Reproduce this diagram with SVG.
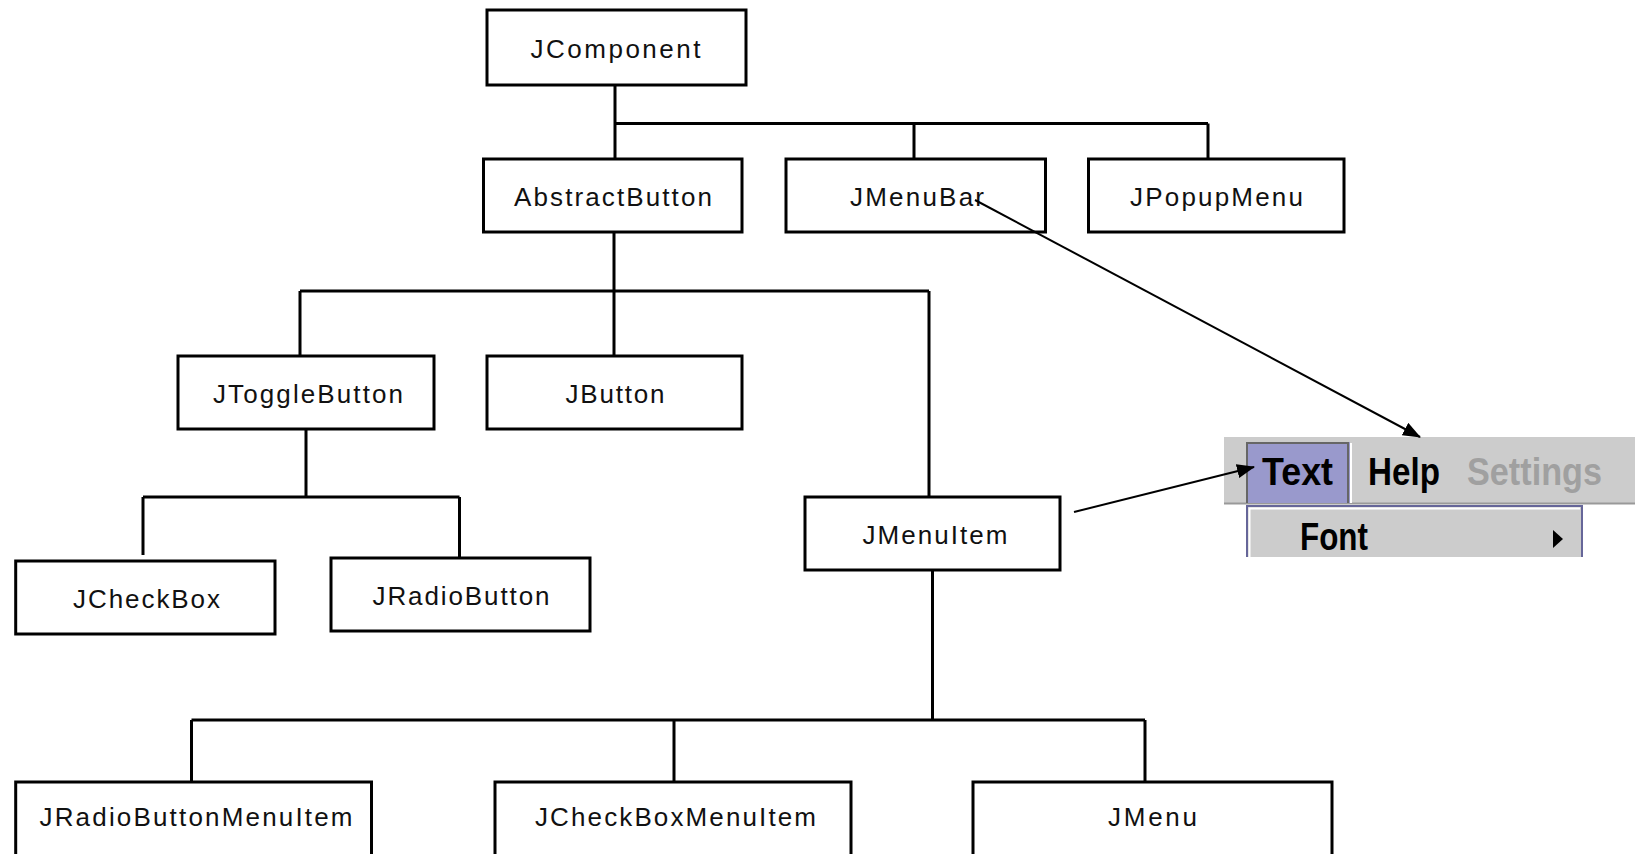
<svg xmlns="http://www.w3.org/2000/svg" width="1641" height="854" viewBox="0 0 1641 854">
<style>
.box{fill:#fff;stroke:#000;stroke-width:3}
.lbl{font-family:"Liberation Sans",Arial,sans-serif;font-size:26px;fill:#111;text-anchor:middle}
.con{fill:none;stroke:#000;stroke-width:3}
.arr{fill:none;stroke:#000;stroke-width:2}
.menu{font-family:"Liberation Sans",Arial,sans-serif;font-weight:bold;font-size:39px}
</style>
<defs>
<marker id="ah" markerUnits="userSpaceOnUse" markerWidth="18" markerHeight="14" refX="17" refY="7" orient="auto">
<path d="M0,0 L18,7 L0,14 Z" fill="#000"/>
</marker>
</defs>
<rect width="1641" height="854" fill="#fff"/>
<g id="JComponent"><rect class="box" x="487" y="10" width="259" height="75"/><text class="lbl" x="615.5" y="58" textLength="170">JComponent</text></g>
<g id="AbstractButton"><rect class="box" x="483.5" y="159" width="258.5" height="73"/><text class="lbl" x="613" y="206" textLength="198">AbstractButton</text></g>
<g id="JMenuBar"><rect class="box" x="786" y="159" width="259.5" height="73"/><text class="lbl" x="917" y="206" textLength="134">JMenuBar</text></g>
<g id="JPopupMenu"><rect class="box" x="1088.5" y="159" width="255.5" height="73"/><text class="lbl" x="1216.5" y="206" textLength="173">JPopupMenu</text></g>
<g id="JToggleButton"><rect class="box" x="178" y="356" width="256" height="73"/><text class="lbl" x="308" y="403" textLength="190">JToggleButton</text></g>
<g id="JButton"><rect class="box" x="487" y="356" width="255" height="73"/><text class="lbl" x="615" y="403" textLength="99">JButton</text></g>
<g id="JCheckBox"><rect class="box" x="15.7" y="561" width="259.3" height="73"/><text class="lbl" x="146.5" y="608" textLength="147">JCheckBox</text></g>
<g id="JRadioButton"><rect class="box" x="331" y="558" width="259" height="73"/><text class="lbl" x="461" y="605" textLength="177">JRadioButton</text></g>
<g id="JMenuItem"><rect class="box" x="805" y="497" width="255" height="73"/><text class="lbl" x="935" y="544" textLength="145">JMenuItem</text></g>
<g id="JRadioButtonMenuItem"><rect class="box" x="15.7" y="782" width="355.8" height="90"/><text class="lbl" x="196" y="826" textLength="313">JRadioButtonMenuItem</text></g>
<g id="JCheckBoxMenuItem"><rect class="box" x="495" y="782" width="356" height="90"/><text class="lbl" x="675.5" y="826" textLength="281">JCheckBoxMenuItem</text></g>
<g id="JMenu"><rect class="box" x="973" y="782" width="359" height="90"/><text class="lbl" x="1152.5" y="826" textLength="89">JMenu</text></g>
<g id="menu-screenshot">
<rect x="1224" y="437" width="411" height="66" fill="#cccccc"/>
<line x1="1224" y1="503.5" x2="1635" y2="503.5" stroke="#999" stroke-width="2"/>
<rect x="1246" y="442" width="104" height="61" fill="#9999cc"/>
<path d="M1247 503V443H1349" fill="none" stroke="#666" stroke-width="2"/>
<line x1="1348" y1="443" x2="1348" y2="503" stroke="#666" stroke-width="2"/>
<line x1="1351" y1="443" x2="1351" y2="503" stroke="#fff" stroke-width="2"/>
<text class="menu" x="1262" y="485" fill="#000" textLength="71" lengthAdjust="spacingAndGlyphs">Text</text>
<text class="menu" x="1368" y="485" fill="#000" textLength="72" lengthAdjust="spacingAndGlyphs">Help</text>
<text class="menu" x="1467" y="485" fill="#a0a0a0" textLength="135" lengthAdjust="spacingAndGlyphs">Settings</text>
<rect x="1246" y="505" width="337" height="52" fill="#cccccc"/>
<path d="M1247 557V506H1582V557" fill="none" stroke="#666699" stroke-width="2"/>
<path d="M1249.5 557V508.5H1580" fill="none" stroke="#fff" stroke-width="2"/>
<text class="menu" x="1300" y="550" fill="#000" textLength="68" lengthAdjust="spacingAndGlyphs">Font</text>
<polygon points="1553,530 1563,539 1553,548" fill="#000"/>
</g>
<g id="connectors">
<path class="con" d="M615 86V159M615 123.5H1208M914 123.5V159M1208 123.5V159"/>
<path class="con" d="M614 232V356M300 291H929M300 291V356M929 291V497"/>
<path class="con" d="M306 429V497M143 497H459.5M143 497V555M459.5 497V558"/>
<path class="con" d="M932.5 570V720M191.5 720H1145M191.5 720V782M674 720V782M1145 720V782"/>
<path class="arr" d="M975 200L1420 437" marker-end="url(#ah)"/>
<path class="arr" d="M1074 512L1254 467" marker-end="url(#ah)"/>
</g>
</svg>
